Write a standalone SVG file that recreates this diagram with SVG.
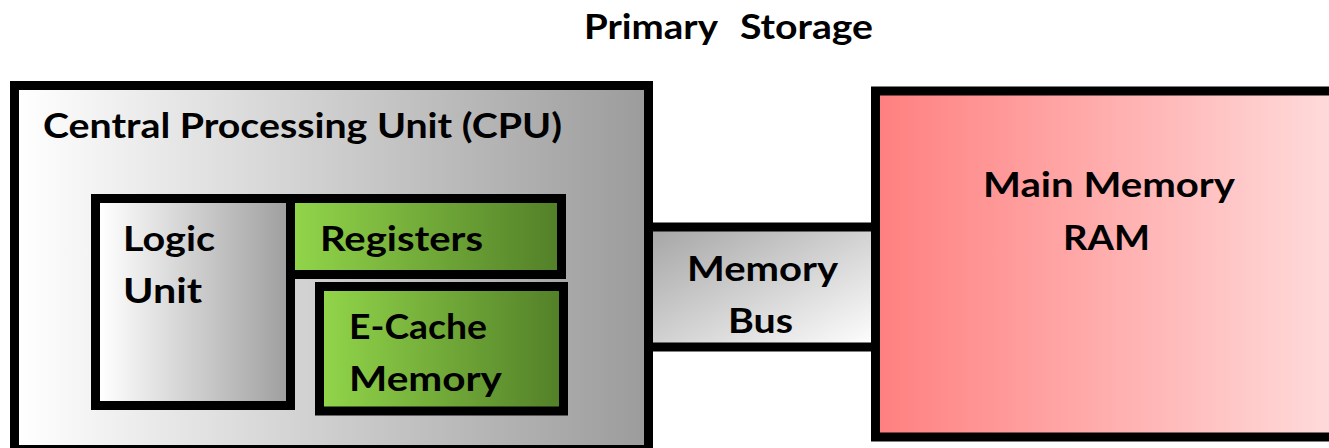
<svg xmlns="http://www.w3.org/2000/svg" width="1329" height="448" viewBox="0 0 1329 448">
<defs>
<linearGradient id="gCpu" gradientUnits="userSpaceOnUse" x1="19" y1="0" x2="645" y2="0"><stop offset="0" stop-color="#FFFFFF"/><stop offset="1" stop-color="#9C9C9C"/></linearGradient>
<linearGradient id="gLogic" gradientUnits="userSpaceOnUse" x1="100" y1="0" x2="286" y2="0"><stop offset="0" stop-color="#FFFFFF"/><stop offset="1" stop-color="#A0A0A0"/></linearGradient>
<linearGradient id="gGreen" x1="0" y1="0" x2="1" y2="0"><stop offset="0" stop-color="#92D64A"/><stop offset="1" stop-color="#527F28"/></linearGradient>
<linearGradient id="gBus" x1="0" y1="0" x2="1" y2="1"><stop offset="0" stop-color="#A4A4A4"/><stop offset="1" stop-color="#FFFFFF"/></linearGradient>
<linearGradient id="gRam" gradientUnits="userSpaceOnUse" x1="880" y1="0" x2="1329" y2="0"><stop offset="0" stop-color="#FF8080"/><stop offset="1" stop-color="#FFDADA"/></linearGradient>
</defs>
<style>
.box{stroke:#000;stroke-width:9}
.t{font-family:Lato,"Liberation Sans",sans-serif;font-weight:bold;font-size:35px;fill:#000}
</style>
<rect width="1329" height="448" fill="#FFFFFF"/>
<g id="title">
<text class="t" x="584" y="39" textLength="134" lengthAdjust="spacingAndGlyphs">Primary</text>
<text class="t" x="740" y="39" textLength="133" lengthAdjust="spacingAndGlyphs">Storage</text>
</g>
<g id="cpu">
<rect class="box" x="14.5" y="85.5" width="634" height="364" fill="url(#gCpu)"/>
<text class="t" x="43" y="138" textLength="519" lengthAdjust="spacingAndGlyphs">Central Processing Unit (CPU)</text>
</g>
<g id="logic-unit">
<rect class="box" x="95.5" y="198.5" width="195" height="207" fill="url(#gLogic)"/>
<text class="t" x="123" y="251" textLength="92" lengthAdjust="spacingAndGlyphs">Logic</text>
<text class="t" x="123" y="303" textLength="79" lengthAdjust="spacingAndGlyphs">Unit</text>
</g>
<g id="registers">
<rect class="box" x="290.5" y="198.5" width="271" height="76" fill="url(#gGreen)"/>
<text class="t" x="320" y="251" textLength="163" lengthAdjust="spacingAndGlyphs">Registers</text>
</g>
<g id="e-cache">
<rect class="box" x="319.5" y="286.5" width="244" height="124.5" fill="url(#gGreen)"/>
<text class="t" x="349" y="339" textLength="138" lengthAdjust="spacingAndGlyphs">E-Cache</text>
<text class="t" x="349" y="391" textLength="153" lengthAdjust="spacingAndGlyphs">Memory</text>
</g>
<g id="connectors">
<g id="memory-bus">
<rect class="box" x="648.5" y="227" width="227" height="120" fill="url(#gBus)"/>
<text class="t" x="687" y="281" textLength="151" lengthAdjust="spacingAndGlyphs">Memory</text>
<text class="t" x="728" y="333" textLength="65" lengthAdjust="spacingAndGlyphs">Bus</text>
</g>
</g>
<g id="main-memory">
<rect class="box" x="875.5" y="91" width="470" height="346" fill="url(#gRam)"/>
<text class="t" x="983" y="197" textLength="252" lengthAdjust="spacingAndGlyphs">Main Memory</text>
<text class="t" x="1063" y="250" textLength="87" lengthAdjust="spacingAndGlyphs">RAM</text>
</g>
</svg>
